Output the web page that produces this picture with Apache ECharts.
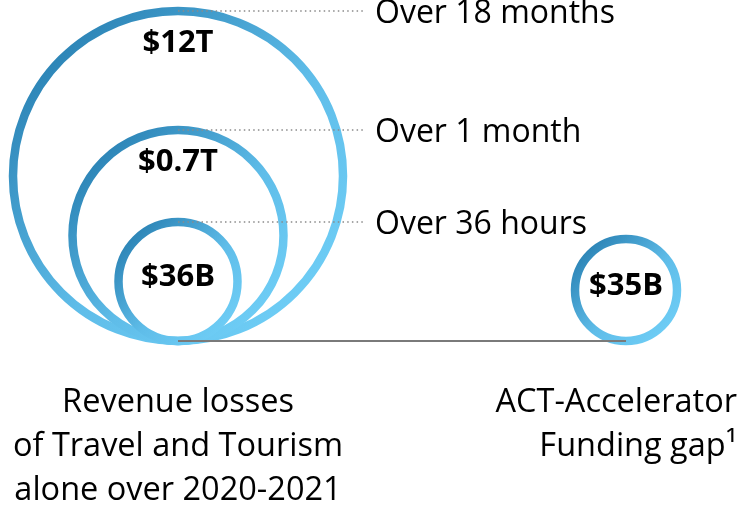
<!DOCTYPE html>
<html>
<head>
<meta charset="utf-8">
<script src="https://cdn.jsdelivr.net/npm/echarts@6/dist/echarts.min.js"></script>
<style>
  html, body { margin: 0; padding: 0; background: #fff; }
  #chart { width: 740px; height: 506px; }
</style>
</head>
<body>
<div id="chart"></div>
<script>
// circles: amount label, radius (axis units), time span, group
const amounts = ['$12T', '$0.7T', '$36B', '$35B']
const radii = [165, 105.5, 59.5, 51]
const durations = ['Over 18 months', 'Over 1 month', 'Over 36 hours', '']
const groupOf = [0, 0, 0, 1]
// groups along the baseline
const groupCenters = [178, 626]
const captions = [
  'Revenue losses\nof Travel and Tourism\nalone over 2020-2021',
  'ACT-Accelerator\nFunding gap\u00b9'
]

const FONT = '"Open Sans", "Noto Sans", sans-serif'

const chart = echarts.init(document.getElementById('chart'))

function ringGradient() {
  return new echarts.graphic.LinearGradient(0, 0, 1, 1, [
    { offset: 0, color: '#1c72a6' },
    { offset: 0.55, color: '#5fbde9' },
    { offset: 1, color: '#74d3fa' }
  ])
}

chart.setOption({
  animation: false,
  grid: { left: 0, right: 0, top: 0, bottom: 0 },
  xAxis: { type: 'value', min: 0, max: 740, show: false },
  yAxis: { type: 'value', min: -165, max: 341, show: false },
  series: [
    {
      type: 'custom',
      z: 2,
      data: amounts.map((a, i) => [groupCenters[groupOf[i]], radii[i]]),
      renderItem(params, api) {
        const i = params.dataIndex
        const r = api.value(1)
        const c = api.coord([api.value(0), r])
        const rPx = api.size([0, r])[1]
        const top = c[1] - rPx
        const children = [
          {
            type: 'circle',
            shape: { cx: c[0], cy: c[1], r: rPx },
            style: { fill: 'none', stroke: ringGradient(), lineWidth: 8.5 }
          },
          {
            type: 'text',
            x: c[0],
            y: rPx > 80 ? top + 32 : c[1] - 4,
            style: {
              text: amounts[i],
              fill: '#000',
              fontFamily: FONT,
              fontWeight: 'bold',
              fontSize: 31,
              align: 'center',
              verticalAlign: 'middle'
            }
          }
        ]
        if (durations[i]) {
          children.push({
            type: 'line',
            shape: { x1: c[0], y1: top, x2: 363, y2: top },
            style: { stroke: '#8a8a8a', lineWidth: 1.5, lineDash: [1.5, 3.2] }
          })
          children.push({
            type: 'text',
            x: 375,
            y: top + 3,
            style: {
              text: durations[i],
              fill: '#000',
              fontFamily: FONT,
              fontSize: 32,
              align: 'left',
              verticalAlign: 'middle'
            }
          })
        }
        return { type: 'group', children }
      }
    },
    {
      type: 'line',
      z: 3,
      symbol: 'none',
      data: groupCenters.map(x => [x, 0]),
      lineStyle: { color: '#7a7a7a', width: 2 }
    },
    {
      type: 'custom',
      z: 2,
      data: groupCenters.map(x => [x, 0]),
      renderItem(params, api) {
        const i = params.dataIndex
        const p = api.coord([api.value(0), 0])
        const right = i === captions.length - 1
        return {
          type: 'text',
          x: right ? api.getWidth() - 3 : p[0],
          y: p[1] + 40,
          style: {
            text: captions[i],
            fill: '#000',
            fontFamily: FONT,
            fontSize: 32.5,
            lineHeight: 44,
            align: right ? 'right' : 'center',
            verticalAlign: 'top'
          }
        }
      }
    }
  ]
})
</script>
</body>
</html>
